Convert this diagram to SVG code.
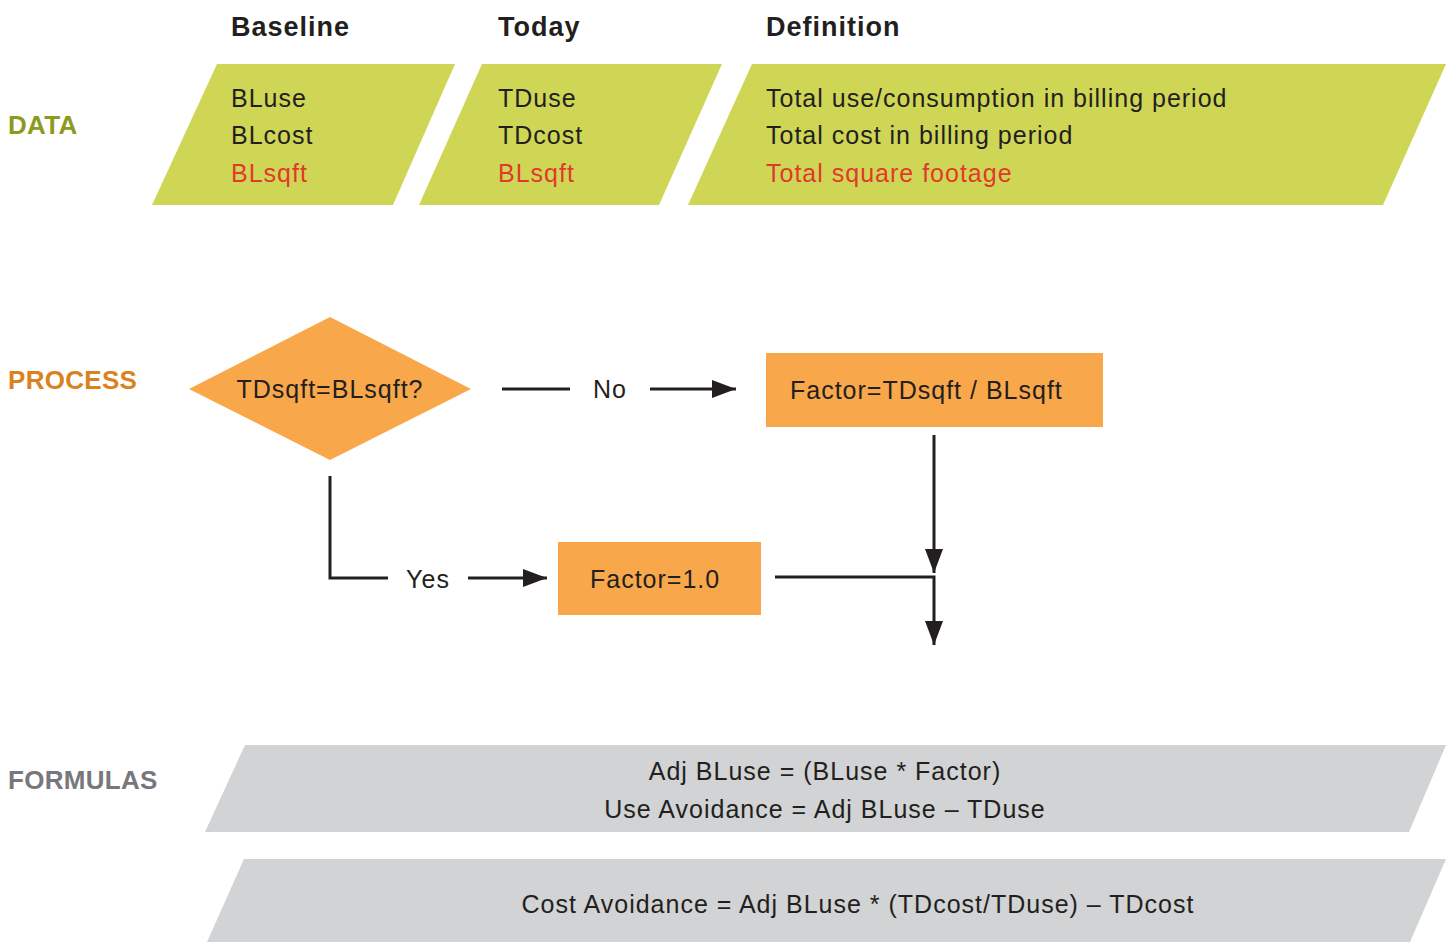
<svg xmlns="http://www.w3.org/2000/svg" width="1448" height="942" viewBox="0 0 1448 942">
<defs>
<style>
.t{font-family:"Liberation Sans",Arial,sans-serif;font-size:25px;letter-spacing:1px;fill:#231f20}
.h{font-family:"Liberation Sans",Arial,sans-serif;font-size:27px;letter-spacing:1px;font-weight:bold;fill:#231f20}
.lbl{font-family:"Liberation Sans",Arial,sans-serif;font-size:26px;letter-spacing:0.3px;font-weight:bold}
.red{fill:#e03a2d}
.green{fill:#cfd655}
.orange{fill:#f8a84a}
.grey{fill:#d1d3d4}
.ln{fill:none;stroke:#231f20;stroke-width:3}
</style>
<marker id="ahb" viewBox="0 0 24 18" refX="24" refY="9" markerWidth="24" markerHeight="18" orient="auto" markerUnits="userSpaceOnUse">
<path d="M0,0 L24,9 L0,18 z" fill="#231f20"/>
</marker>
</defs>
<rect width="1448" height="942" fill="#ffffff"/>

<g id="headers">
<text class="h" x="231" y="36">Baseline</text>
<text class="h" x="498" y="36">Today</text>
<text class="h" x="766" y="36">Definition</text>
</g>

<g id="row-labels">
<text class="lbl" x="8" y="134" fill="#8c9b1f">DATA</text>
<text class="lbl" x="8" y="389" fill="#d9831f">PROCESS</text>
<text class="lbl" x="8" y="789" fill="#77787b">FORMULAS</text>
</g>

<g id="data-baseline">
<polygon class="green" points="217,64 455,64 393,205 152,205"/>
<text class="t" x="231" y="107">BLuse</text>
<text class="t" x="231" y="144">BLcost</text>
<text class="t red" x="231" y="182">BLsqft</text>
</g>

<g id="data-today">
<polygon class="green" points="482,64 722,64 659,205 419,205"/>
<text class="t" x="498" y="107">TDuse</text>
<text class="t" x="498" y="144">TDcost</text>
<text class="t red" x="498" y="182">BLsqft</text>
</g>

<g id="data-definition">
<polygon class="green" points="752,64 1446,64 1383,205 688,205"/>
<text class="t" x="766" y="107">Total use/consumption in billing period</text>
<text class="t" x="766" y="144">Total cost in billing period</text>
<text class="t red" x="766" y="182">Total square footage</text>
</g>

<g id="decision">
<polygon class="orange" points="330,317 471,389 330,460 189,389"/>
<text class="t" x="330" y="398" text-anchor="middle">TDsqft=BLsqft?</text>
</g>

<g id="factor-ratio">
<rect class="orange" x="766" y="353" width="337" height="74"/>
<text class="t" x="790" y="399">Factor=TDsqft / BLsqft</text>
</g>

<g id="factor-one">
<rect class="orange" x="558" y="542" width="203" height="73"/>
<text class="t" x="590" y="588">Factor=1.0</text>
</g>

<g id="connectors">
<line class="ln" x1="502" y1="389" x2="570" y2="389"/>
<text class="t" x="610" y="398" text-anchor="middle">No</text>
<line class="ln" x1="650" y1="389" x2="736" y2="389" marker-end="url(#ahb)"/>
<polyline class="ln" points="330,476 330,578 388,578"/>
<text class="t" x="428" y="588" text-anchor="middle">Yes</text>
<line class="ln" x1="468" y1="578" x2="547" y2="578" marker-end="url(#ahb)"/>
<line class="ln" x1="934" y1="435" x2="934" y2="573" marker-end="url(#ahb)"/>
<polyline class="ln" points="775,577 934,577 934,645" marker-end="url(#ahb)"/>
</g>

<g id="formula-1">
<polygon class="grey" points="245,745 1446,745 1409,832 205,832"/>
<text class="t" x="825" y="780" text-anchor="middle">Adj BLuse = (BLuse * Factor)</text>
<text class="t" x="825" y="818" text-anchor="middle">Use Avoidance = Adj BLuse – TDuse</text>
</g>

<g id="formula-2">
<polygon class="grey" points="244,859 1446,859 1410,942 207,942"/>
<text class="t" x="858" y="913" text-anchor="middle">Cost Avoidance = Adj BLuse * (TDcost/TDuse) – TDcost</text>
</g>
</svg>
